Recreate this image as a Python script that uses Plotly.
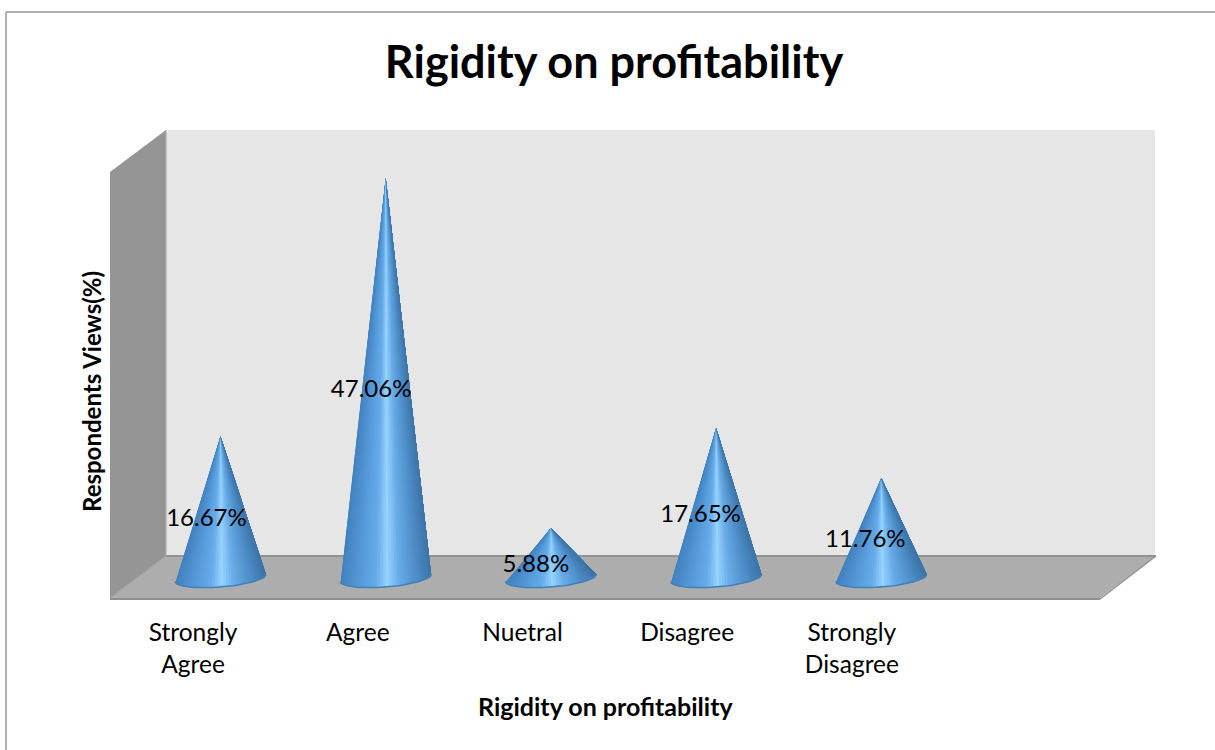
import numpy as np
import plotly.graph_objects as go

categories = ["Strongly<br>Agree", "Agree", "Nuetral", "Disagree", "Strongly<br>Disagree"]
values = [16.67, 47.06, 5.88, 17.65, 11.76]
labels = ["16.67%", "47.06%", "5.88%", "17.65%", "11.76%"]

FONT = "Lato"
WIDTH = 1215
HEIGHT = 750
PLOT_LEFT, PLOT_RIGHT, PLOT_TOP, PLOT_BOTTOM = 110, 1155, 130, 600

# cone shading across the width, left edge to right edge
SHADE_POS = [-1.0, -0.6, -0.2, 0.03, 0.3, 0.7, 1.0]
SHADE_RGB = [
    (66, 130, 190),
    (84, 152, 216),
    (104, 172, 234),
    (150, 212, 253),
    (104, 172, 232),
    (76, 140, 198),
    (62, 116, 168),
]

# data units of the base ellipse
BASE_HALF_WIDTH = 0.275
BASE_DEPTH = 1.06
BASE_TILT = 0.41
N_STRIPS = 48

# the labels sit on a slightly tighter pitch than the cones
LABEL_PITCH = 0.997


def shade(t):
    rgb = [np.interp(t, SHADE_POS, [c[k] for c in SHADE_RGB]) for k in range(3)]
    return "rgb(%d,%d,%d)" % tuple(rgb)


def base_point(center, theta):
    x = center + BASE_HALF_WIDTH * np.cos(theta)
    y = BASE_TILT * np.cos(theta) - BASE_DEPTH * np.sin(theta)
    return x, y


def paper_x(px):
    return (px - PLOT_LEFT) / (PLOT_RIGHT - PLOT_LEFT)


def paper_y(py):
    return (PLOT_BOTTOM - py) / (PLOT_BOTTOM - PLOT_TOP)


def polygon(points, fill):
    path = "M " + " L ".join(f"{paper_x(x):.5f} {paper_y(y):.5f}" for x, y in points) + " Z"
    return {
        "type": "path",
        "path": path,
        "xref": "paper",
        "yref": "paper",
        "fillcolor": fill,
        "line": {"width": 0},
        "layer": "below",
    }


def edge(p0, p1, color, width):
    return {
        "type": "line",
        "xref": "paper",
        "yref": "paper",
        "x0": paper_x(p0[0]),
        "y0": paper_y(p0[1]),
        "x1": paper_x(p1[0]),
        "y1": paper_y(p1[1]),
        "line": {"color": color, "width": width},
        "layer": "below",
    }


fig = go.Figure()

# painted left to right: each polygon runs from its strip to the right end of
# the cone and covers the one before it, so no seams show between strips
thetas = np.linspace(np.pi, 0, N_STRIPS + 1)
for k in range(N_STRIPS):
    arc = thetas[k:]
    xs, ys = [], []
    for i, value in enumerate(values):
        arc_x, arc_y = base_point(i, arc)
        xs += [i] + list(arc_x) + [i, None]
        ys += [value] + list(arc_y) + [value, None]
    color = shade(np.cos((thetas[k] + thetas[k + 1]) / 2))
    fig.add_trace(
        go.Scatter(
            x=xs,
            y=ys,
            mode="lines",
            fill="toself",
            fillcolor=color,
            line={"color": color, "width": 0},
            hoverinfo="skip",
            showlegend=False,
        )
    )

# darker rim along the front of each base
rim_x, rim_y = [], []
for i in range(len(values)):
    arc_x, arc_y = base_point(i, np.linspace(np.pi, 0, 40))
    rim_x += list(arc_x) + [None]
    rim_y += list(arc_y) + [None]
fig.add_trace(
    go.Scatter(
        x=rim_x,
        y=rim_y,
        mode="lines",
        line={"color": "#4480b8", "width": 1.5},
        hoverinfo="skip",
        showlegend=False,
    )
)

fig.add_trace(
    go.Scatter(
        x=[i * LABEL_PITCH - 0.085 for i in range(len(values))],
        y=[v / 2 - 1.55 for v in values],
        mode="text",
        text=labels,
        textposition="middle center",
        textfont={"family": FONT, "size": 24, "color": "#000000"},
        hoverinfo="skip",
        showlegend=False,
    )
)

shapes = [
    polygon([(166, 130), (1155, 130), (1155, 556), (166, 556)], "#e6e6e6"),
    polygon([(110, 172), (166, 130), (166, 556), (110, 598)], "#959595"),
    polygon([(166, 556), (1156, 556), (1100, 598), (110, 598)], "#adadad"),
    edge((166, 556), (1156, 556), "#929292", 2),
    edge((110, 599), (1100, 599), "#8f8f8f", 2),
    edge((1100, 599), (1156, 556), "#929292", 1.5),
    edge((110, 598), (166, 556), "#a0a0a0", 1),
    edge((166, 130), (166, 556), "#aaaaaa", 1),
    edge((6, 12), (1215, 12), "#b0b0b0", 2),
    edge((6, 12), (6, 750), "#b0b0b0", 2),
]

annotations = [
    {
        "text": "<b>Rigidity on profitability</b>",
        "xref": "paper",
        "yref": "paper",
        "x": paper_x(605),
        "y": paper_y(706),
        "xanchor": "center",
        "yanchor": "middle",
        "showarrow": False,
        "font": {"family": FONT, "size": 25, "color": "#000000"},
    },
    {
        "text": "<b>Respondents Views(%)</b>",
        "xref": "paper",
        "yref": "paper",
        "x": paper_x(91),
        "y": paper_y(392),
        "xanchor": "center",
        "yanchor": "middle",
        "textangle": -90,
        "showarrow": False,
        "font": {"family": FONT, "size": 24, "color": "#000000"},
    },
]

scale_x = 165.2
scale_y = 8.5
fig.update_layout(
    width=WIDTH,
    height=HEIGHT,
    margin={
        "l": PLOT_LEFT,
        "r": WIDTH - PLOT_RIGHT,
        "t": PLOT_TOP,
        "b": HEIGHT - PLOT_BOTTOM,
        "pad": 0,
    },
    title={
        "text": "<b>Rigidity on profitability</b>",
        "x": 614 / WIDTH,
        "xanchor": "center",
        "y": 1 - 62 / HEIGHT,
        "yanchor": "middle",
        "font": {"family": FONT, "size": 45, "color": "#000000"},
    },
    paper_bgcolor="#ffffff",
    plot_bgcolor="rgba(0,0,0,0)",
    shapes=shapes,
    annotations=annotations,
)

fig.update_xaxes(
    range=[(PLOT_LEFT - 220.5) / scale_x, (PLOT_RIGHT - 220.5) / scale_x],
    tickvals=[i * LABEL_PITCH - 0.166 for i in range(len(categories))],
    ticktext=categories,
    tickfont={"family": FONT, "size": 24.5, "color": "#000000"},
    ticks="outside",
    ticklen=11,
    tickcolor="rgba(0,0,0,0)",
    showgrid=False,
    zeroline=False,
    showline=False,
)

fig.update_yaxes(
    range=[(578 - PLOT_BOTTOM) / scale_y, (578 - PLOT_TOP) / scale_y],
    showticklabels=False,
    ticks="",
    showgrid=False,
    zeroline=False,
    showline=False,
)

fig.write_html(
    "out.html",
    config={"displayModeBar": False},
    post_script="document.body.style.margin = '0';",
)
